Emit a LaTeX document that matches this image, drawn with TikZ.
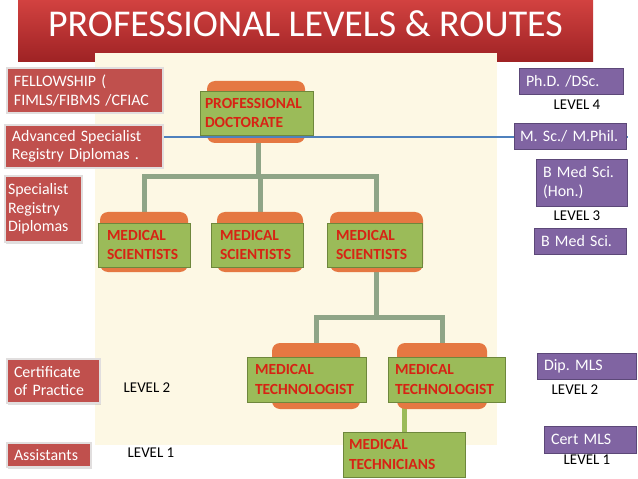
\documentclass[tikz,border=0pt]{standalone}
\usepackage{fontspec}
\setmainfont{Carlito}
\usetikzlibrary{shadows}
\pgfdeclarelayer{back}
\pgfdeclarelayer{conns}
\pgfdeclarelayer{tabs}
\pgfdeclarelayer{lines}
\pgfsetlayers{back,conns,tabs,lines,main}
\definecolor{redbox}{RGB}{192,80,77}
\definecolor{redline}{RGB}{225,222,222}
\definecolor{purpbox}{RGB}{128,100,162}
\definecolor{purpline}{RGB}{92,72,120}
\definecolor{greenbox}{RGB}{155,187,89}
\definecolor{greenline}{RGB}{110,135,60}
\definecolor{greentext}{RGB}{215,35,20}
\definecolor{orangetab}{RGB}{229,120,66}
\definecolor{connc}{RGB}{143,165,135}
\definecolor{bluec}{RGB}{79,129,189}
\definecolor{cream}{RGB}{253,248,228}
\definecolor{titletop}{RGB}{210,66,64}
\definecolor{titlebot}{RGB}{158,34,36}
\begin{document}
\frenchspacing
\begin{tikzpicture}[x=1bp,y=-1bp,
  rbox/.style={rectangle, fill=redbox, draw=redline, line width=1.2bp, text=white,
    inner xsep=7bp, inner ysep=0pt, align=left, font=\fontsize{16}{18.5}\selectfont,
    drop shadow={opacity=0.25, shadow xshift=1bp, shadow yshift=-1.5bp}},
  pbox/.style={rectangle, fill=purpbox, draw=purpline, line width=0.8bp, text=white,
    inner xsep=7bp, inner ysep=0pt, align=left, font=\fontsize{16}{18.5}\selectfont},
  gbox/.style={rectangle, fill=greenbox, draw=greenline, line width=0.8bp, text=greentext,
    inner xsep=7bp, inner ysep=0pt, align=left, font=\bfseries\fontsize{15.5}{19.5}\selectfont},
  tabshape/.style={rectangle, rounded corners=8bp, fill=orangetab, inner sep=0pt},
  conn/.style={draw=connc, line width=5bp},
  tline/.style={draw=greenbox, line width=5bp},
  bline/.style={draw=bluec, line width=2bp},
  lvl/.style={text=black, inner sep=0pt, font=\fontsize{15}{18}\selectfont}
]
\useasboundingbox (0,0) rectangle (638,479);
\begin{pgfonlayer}{back}
\fill[white] (0,0) rectangle (638,479);
\shade[top color=titletop, bottom color=titlebot] (18,0) rectangle (593,62);
\fill[cream] (95,53) rectangle (497,445);
\end{pgfonlayer}

\node[text=white, inner sep=0pt, font=\fontsize{38}{44}\selectfont] (title) at (305.5,24) {PROFESSIONAL LEVELS \& ROUTES};

% orange tabs
\begin{pgfonlayer}{tabs}
\node[tabshape, minimum width=98bp, minimum height=62bp] (doct) at (256,112) {};
\node[tabshape, minimum width=88bp, minimum height=60bp] (ms1t) at (144,242) {};
\node[tabshape, minimum width=86bp, minimum height=60bp] (ms2t) at (260,242) {};
\node[tabshape, minimum width=93bp, minimum height=60bp] (ms3t) at (376.5,242) {};
\node[tabshape, minimum width=88bp, minimum height=66bp] (mt1t) at (316,376) {};
\node[tabshape, minimum width=90bp, minimum height=66bp] (mt2t) at (442,376) {};
\end{pgfonlayer}

% green boxes
\node[gbox, inner xsep=5bp, minimum height=44bp, text width=103bp] (doc) at (256.5,113) {PROFESSIONAL\\DOCTORATE};
\node[gbox, inner xsep=9bp, minimum height=44bp, text width=74bp] (ms1) at (144,245) {MEDICAL\\SCIENTISTS};
\node[gbox, inner xsep=9bp, minimum height=44bp, text width=74bp] (ms2) at (257,245) {MEDICAL\\SCIENTISTS};
\node[gbox, inner xsep=9bp, minimum height=44bp, text width=77bp] (ms3) at (374.5,245) {MEDICAL\\SCIENTISTS};
\node[gbox, inner xsep=8bp, minimum height=45bp, text width=103bp] (mt1) at (306.5,379.5) {MEDICAL\\TECHNOLOGIST};
\node[gbox, inner xsep=7bp, minimum height=45bp, text width=103bp] (mt2) at (446.5,379.5) {MEDICAL\\TECHNOLOGIST};
\node[gbox, inner xsep=6bp, minimum height=45bp, text width=110bp] (mtc) at (404,454.5) {MEDICAL\\TECHNICIANS};

% purple boxes
\node[pbox, minimum height=26bp, text width=90bp] (phd) at (571,81) {Ph.D. /DSc.};
\node[pbox, inner xsep=6bp, minimum height=26bp, text width=100bp] (msc) at (570,136) {M. Sc./ M.Phil.};
\node[pbox, minimum height=47bp, text width=77bp] (bhon) at (581.5,182.5) {B Med Sci.\\(Hon.)};
\node[pbox, minimum height=26bp, text width=78bp] (bmed) at (580,241) {B Med Sci.};
\node[pbox, minimum height=26bp, text width=85bp] (dip) at (586.5,366) {Dip. MLS};
\node[pbox, minimum height=27bp, text width=78bp] (cmls) at (590,439.5) {Cert MLS};

% red boxes
\node[rbox, minimum height=45bp, text width=142bp] (fel) at (85,90.5) {FELLOWSHIP (\\FIMLS/FIBMS /CFIAC};
\node[rbox, minimum height=43bp, text width=144bp] (adv) at (84,146.5) {Advanced Specialist\\Registry Diplomas .};
\node[rbox, inner xsep=3bp, minimum height=66bp, text width=71bp] (spec) at (43.5,209) {Specialist\\Registry\\Diplomas};
\node[rbox, minimum height=44bp, text width=79bp] (cert) at (53.5,381) {Certificate\\of Practice};
\node[rbox, minimum height=24bp, text width=70bp] (asst) at (49,455) {Assistants};

% level labels
\node[lvl] (l4) at (577,105) {LEVEL 4};
\node[lvl] (l3) at (577,216) {LEVEL 3};
\node[lvl] (l2r) at (575,390) {LEVEL 2};
\node[lvl] (l1r) at (587,460) {LEVEL 1};
\node[lvl] (l2l) at (147,388) {LEVEL 2};
\node[lvl] (l1l) at (151,453) {LEVEL 1};

% connectors, behind the boxes
\begin{pgfonlayer}{conns}
\coordinate (j1) at (258,177);
\coordinate (j2) at (376,317);
\draw[conn] (doc.south -| j1) -- (j1);
\draw[conn] (ms1t.north) |- (j1) -| (ms3t.north);
\draw[conn] (j1) -| (ms2t.north);
\draw[conn] (ms3.south -| j2) -- (j2);
\draw[conn] (mt1t.north) |- (j2) -| (mt2t.north);
\draw[tline] (mtc.north) -- (mtc.north |- mt2.south);
\end{pgfonlayer}
\begin{pgfonlayer}{lines}
\coordinate (bl) at (adv.east |- 0,137);
\draw[bline] (bl) -- (bl -| msc.east) -- ++(2,0);
\end{pgfonlayer}
\end{tikzpicture}
\end{document}
